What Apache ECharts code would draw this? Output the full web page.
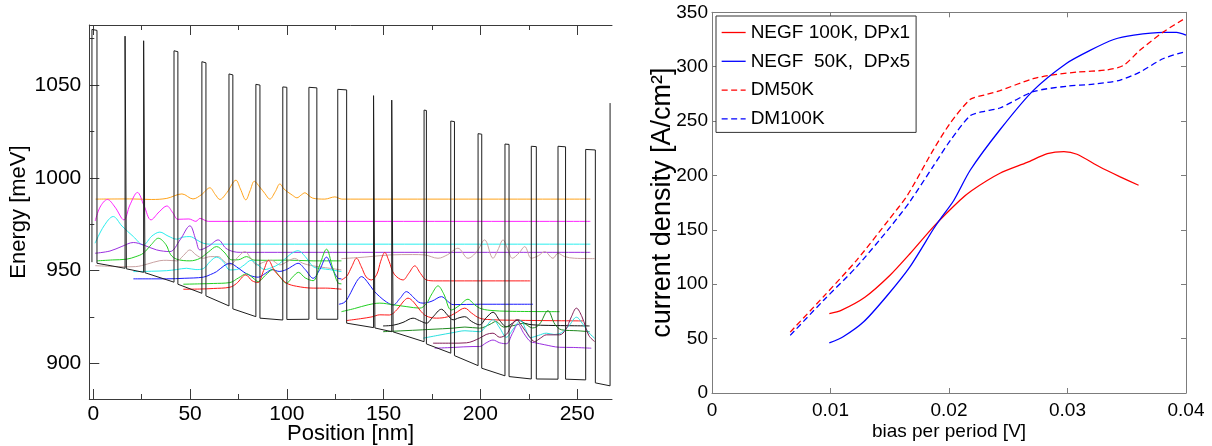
<!DOCTYPE html>
<html><head><meta charset="utf-8">
<script src="https://cdn.jsdelivr.net/npm/echarts@6.0.0/dist/echarts.min.js"></script>
<style>html,body{margin:0;padding:0;background:#fff}#c{width:1212px;height:446px}</style>
</head><body><div id="c"></div>
<script>
// ---------------- LEFT PANEL DATA (position nm, energy meV) ----------------
const posMajorTicks = [0, 50, 100, 150, 200, 250];
const posMinorTicks = [25, 75, 125, 175, 225];
const energyMajorTicks = [900, 950, 1000, 1050];
const energyMinorTicks = [925, 975, 1025, 1075];

const bandProfile = [
  [-0.7, 954.5], [-0.7, 1080.0], [1.9, 1079.5], [1.9, 953.9],
  [16.4, 951.2], [16.4, 1076.4], [17.1, 1076.2], [17.1, 950.9],
  [26.0, 949.0], [26.0, 1073.9], [26.7, 1073.7], [26.7, 948.8],
  [41.7, 943.7], [41.7, 1068.5], [43.7, 1068.0], [43.7, 942.6],
  [56.1, 937.7], [56.1, 1062.6], [58.2, 1062.0], [58.2, 936.3],
  [70.1, 930.9], [70.1, 1056.0], [72.1, 1055.5], [72.1, 929.3],
  [84.0, 925.1], [84.0, 1050.4], [86.1, 1050.0], [86.1, 924.3],
  [97.9, 923.3], [97.9, 1049.0], [100.0, 1048.8], [100.0, 923.6],
  [111.4, 923.7], [111.4, 1048.8], [115.5, 1048.5], [115.5, 923.7],
  [126.3, 923.7], [126.3, 1047.7], [130.9, 1047.4], [130.9, 921.6],
  [144.8, 919.2], [144.8, 1044.3], [145.5, 1044.2], [145.5, 919.0],
  [154.2, 917.0], [154.2, 1041.9], [154.9, 1041.8], [154.9, 916.9],
  [170.9, 911.6], [170.9, 1036.5], [172.1, 1036.3], [172.1, 910.4],
  [184.7, 905.4], [184.7, 1030.6], [186.6, 1030.3], [186.6, 904.1],
  [198.8, 898.7], [198.8, 1023.8], [200.7, 1023.5], [200.7, 897.3],
  [212.7, 893.2], [212.7, 1018.2], [214.8, 1018.0], [214.8, 892.8],
  [226.3, 891.5], [226.3, 1017.0], [228.9, 1016.8], [228.9, 891.5],
  [240.1, 891.4], [240.1, 1017.0], [244.0, 1016.7], [244.0, 891.4],
  [254.4, 891.0], [254.4, 1015.3], [259.4, 1015.0], [259.4, 889.4],
  [267.0, 887.8], [267.0, 1040.3]
];

const psiOrange = [[1.2,988.5],[20,988.6],[30,988.3],[38,988.9],[45.8,991.3],[51.5,988.6],[56,991],[60.2,994.6],[63,991],[65.4,988.3],[69,992],[73.7,998.7],[76,994],[78.8,988.1],[81,993],[83.2,998.1],[86,995],[88.6,991.6],[91.2,988.5],[94,992.5],[96.4,996.7],[98.5,994],[100.5,992.3],[103,990.5],[105.2,989.2],[107.5,990.8],[109.3,991.9],[111.5,990.3],[113.4,989.0],[119.6,988.5],[124.8,989.7],[128.4,988.5],[256.8,988.5]];
const psiMagenta = [[1.0,976.7],[3.5,984.2],[7.3,988.3],[11.2,984.2],[15.8,977.3],[18.9,985.3],[22.8,992.1],[26.2,985],[29.8,977.3],[34,981.6],[38,984.8],[41.1,981.1],[43.7,977.6],[49.4,977.8],[53,976.5],[55.1,978.1],[59.4,976.5],[256.8,976.5]];
const psiCyan = [[0.9,964.7],[5.5,974],[10.3,979.1],[14.8,974],[20.7,968.3],[25.8,963.8],[30.3,968.6],[34.4,970.7],[38.6,968.6],[43.1,966.9],[46.3,968],[49.9,968.3],[53.5,966.5],[56.8,964.7],[60.2,964.2],[256.8,964.2]];
const psiPurple = [[0.9,959.3],[8.6,960.5],[14.8,963],[20.7,965.1],[25.8,963.8],[32.7,961.1],[39.6,960.2],[44.8,966.5],[49.9,974.1],[53,966.5],[55.1,961.1],[59.7,963.2],[64.5,966.5],[68.5,962],[72.3,960.2],[76,959.8],[256.8,959.8]];
const psiGreenA = [[1.9,955.2],[10,955.7],[17.2,956.1],[22,957.5],[25.8,959.3],[30,964],[33.6,967.4],[37.5,964],[40,958.5],[43.1,956.1],[49.9,955.2],[55,956.5],[59.5,960],[63.7,962.9],[67.5,960],[71.6,955.7],[75,955.8],[79.2,957.5],[83,955.6],[90,955.5],[100,955.6],[113.6,955.2],[128.2,955.2]];
const psiRosyA = [[1,952.6],[10,952.2],[16,952],[21.9,952.1],[28,953.5],[34.4,955.3],[38,955.5],[43.1,955.2],[46.5,958],[49.9,961.1],[53,958.5],[56.8,956.6],[60.5,957.5],[64.5,957.5],[67.5,955],[70.6,953],[74.5,957],[78.3,960.2],[81.5,956.5],[84.4,953],[88,954.5],[92,955.5],[96.4,953],[100.5,955],[104,956.5],[108,954],[113.6,952.5],[120,951.5],[128.2,950.3]];
const psiCyanA = [[20.7,949.4],[30,949.6],[37.9,949.9],[43,950.5],[48.2,951.2],[53,950.5],[56.8,951],[60.5,955],[63.7,957.2],[67,955],[70.6,950.3],[74,950.5],[78,953],[81.5,955.5],[85,953],[88.6,950.5],[92,951.5],[96,953.5],[101.5,958.5],[105.8,960.7],[109.5,957.5],[113.6,952.1],[118,951],[122,950.5],[128.2,949.4]];
const psiBlueA = [[20.7,945.5],[30,945.5],[37.9,945.5],[47,945.8],[56.8,946.4],[60.5,947.8],[63.7,949.4],[67.5,952.5],[70.6,953.9],[74,952],[77.4,949.4],[81,947.3],[85.2,946.4],[89,948.5],[92.5,950.5],[96,949.5],[99.8,950.5],[103,952.5],[105.8,953.9],[109.5,950.5],[113.6,945.8],[117,950.5],[120.5,957.2],[123.5,951],[126.5,945.8],[128.2,945.5]];
const psiGreenA2 = [[46.5,942.6],[55,942.8],[62,943],[70.6,943.5],[75,946],[79.2,948.2],[82.5,946],[85.2,944],[89,947.5],[92.9,950.5],[96.4,946.5],[99.8,943.2],[103,946.5],[106,949],[109.5,946],[113.6,944.5],[117,953],[120.5,961.5],[123.5,952],[126.5,943.2],[128.2,942.8]];
const psiRedA = [[46.5,939.9],[55,940],[62,940.3],[70.6,941],[74,943],[78.8,947.6],[82,944.5],[85,943.5],[88,950],[90.5,955.5],[93.5,950],[96.4,946.7],[99.8,943.2],[105,941.5],[113.6,940.5],[120,940.5],[128.2,939.9]];
const psiRosyB = [[128.2,956.4],[140,957.2],[153.2,958.4],[165,958.6],[171.2,958.4],[178.1,956.6],[183,958.5],[188.4,962],[193.6,956.6],[198,960],[202.2,966.5],[206.5,956.6],[209,961],[211.7,966.5],[214.3,961],[216.5,956.6],[220,959.5],[222.9,962.9],[226.3,956.6],[230,958],[233.2,960.2],[237.5,956.6],[240.1,959.3],[243.5,957.5],[248.7,956.6],[259,956.4]];
const psiRedB = [[128.2,944.9],[131,947],[133.5,952],[136,956.6],[138.5,952],[141,946.5],[143.7,944.9],[146.5,948],[148.5,955],[150.6,959.7],[152.8,955],[155.5,948],[160,944.9],[163,948.5],[166.1,952.5],[169,948.5],[172.1,944.9],[177,944.4],[225.8,944.4]];
const psiBlueB = [[126.9,931.8],[130,933],[133,938],[136,944],[138.6,946.7],[141.5,944],[145,939],[148,935.9],[151.5,933],[154.9,931.4],[158.5,935],[161.8,938.6],[165,936],[168,933],[170.4,932.4],[175,933.5],[179.9,935.9],[183,933.5],[185.9,931.6],[200,931.8],[227.2,931.8]];
const psiGreenB = [[128.2,927.8],[135,929.5],[142,931.5],[148,932.4],[155,931.5],[162,930.5],[168.7,929.7],[172,932],[175,937.5],[178.1,941.7],[181,937.5],[185,928.7],[189,931],[193.6,934.5],[196.5,932],[199.6,929.7],[205,928.5],[215,928],[240.9,927.8]];
const psiRedB2 = [[130.8,923],[138,924],[144,925],[148,926.1],[153,926],[157,929],[160,933],[162.6,935.1],[165.5,933],[168.7,928.7],[172,925.5],[177.3,924.3],[183,925],[187,927],[191.9,929.7],[195.5,927],[199.6,924.3],[205,923.5],[215,923.2],[253,922.8]];
const psiBlackB = [[149.7,920.1],[155,920.5],[160,922],[165.2,924.3],[168.5,923],[172.1,921.6],[175.5,925],[179.9,929.1],[183,926],[185.9,923.4],[189,924.5],[191.9,925.1],[195.5,922.5],[199.6,920.7],[203,924.5],[206.5,927.5],[210,923],[213.4,919.7],[216.5,921.5],[219.4,923.4],[223,921.5],[227.2,920.7],[235,920.4],[256.4,920.1]];
const psiDkGreenB = [[149.7,917],[160,917.5],[170,918],[175,918.3],[185.9,918.9],[192,919.5],[199.6,918.9],[205,921],[208,922.5],[212,919.5],[218,920.5],[222,921.5],[227,919],[230.5,921],[234.9,928.3],[238.5,921],[242,918],[250,917.5],[256.4,917]];
const psiCyanB = [[170.4,913.5],[178,915],[185.9,916.5],[192,917.5],[199.6,917],[203,920],[206.5,923.5],[210,919],[213.4,914],[217,918.5],[220.8,923],[223.5,918],[225.8,913.8],[230,915],[234.1,916.2],[238,915.5],[242,916.5],[246,920.5],[249.6,924.8],[253,921],[256,916.5],[259,913.5]];
const psiMaroonB = [[175.5,910.8],[185,910.8],[192.8,911],[199.6,913.5],[203,915.5],[206.5,916.2],[210,914],[213.4,915.5],[216,920],[218.6,923.4],[221.5,920],[225.4,914.3],[228,911.7],[231,913.5],[234.1,915.3],[240.9,915.3],[244,918],[247,925],[249.6,929.7],[252.5,925],[256,915],[259,911.7]];
const psiPurpleB = [[176.4,908.1],[186,908.5],[196.2,909],[199.6,909],[203,911],[206.5,912.5],[210,911],[213.4,910.5],[216.5,916],[219.4,921],[222.5,916],[226,911.5],[228,911.1],[233,910],[240.9,908.6],[248,908.5],[257.3,908.1]];

// ---------------- RIGHT PANEL DATA (bias V, current density A/cm^2) ----------------
const legendNames = ['NEGF 100K, DPx1', 'NEGF  50K,  DPx5', 'DM50K', 'DM100K'];
const negf100K = [[0.0099,73],[0.0109,76],[0.0129,88],[0.0150,108],[0.0167,128],[0.0187,153],[0.0209,177],[0.0219,186],[0.0243,202],[0.0266,212],[0.0283,220],[0.0297,222],[0.0308,219.5],[0.0327,208],[0.0344,199],[0.0360,191]];
const negf50K = [[0.0099,46],[0.0111,52],[0.0128,65.5],[0.0147,88.5],[0.0167,116],[0.0187,151],[0.0192,159],[0.0204,177],[0.0218,205],[0.0243,242],[0.0271,278],[0.0299,303],[0.0319,315],[0.0339,325],[0.0356,329],[0.0381,331.5],[0.0392,331.5],[0.0400,329]];
const dm50K = [[0.0066,56],[0.0094,88.5],[0.0122,122],[0.0149,159],[0.0165,182],[0.0187,224],[0.0201,248],[0.0218,270],[0.0230,274],[0.0243,278],[0.0271,289],[0.0291,293],[0.0308,295],[0.0333,297],[0.0347,301],[0.0361,315],[0.0381,332],[0.0400,345]];
const dm100K = [[0.0066,53],[0.0094,85],[0.0122,116],[0.0150,152],[0.0167,176],[0.0187,209],[0.0201,232],[0.0218,255],[0.0230,259],[0.0243,262],[0.0271,277],[0.0299,282],[0.0322,284],[0.0344,287.5],[0.0361,295],[0.0381,307.5],[0.0400,314]];

// ---------------- STYLES ----------------
const FONT = '"Liberation Sans", Arial, Helvetica, sans-serif';
const LCOL = '#3a3a3a';
const RCOL = '#7c7c7c';
const leftCurves = [
  [psiOrange, '#ffa31a'], [psiMagenta, '#ff22ff'], [psiCyan, '#2aeeee'], [psiPurple, '#9b30e0'],
  [psiGreenA, '#22d022'], [psiRosyA, '#c9a2a2'], [psiCyanA, '#2aeeee'], [psiBlueA, '#1a1aff'],
  [psiGreenA2, '#22d022'], [psiRedA, '#ff1a1a'],
  [psiRosyB, '#caa3a3'], [psiRedB, '#ff1a1a'], [psiBlueB, '#1a1aff'], [psiGreenB, '#22d022'],
  [psiRedB2, '#ff1a1a'], [psiBlackB, '#111111'], [psiDkGreenB, '#208a20'], [psiCyanB, '#2ae0e0'],
  [psiMaroonB, '#85205a'], [psiPurpleB, '#9b30e0']
];

const xMinL = -2.07, xMaxL = 268, yMinL = 880.7, yMaxL = 1082.4;
const plain = function (v) { return String(v); };

function lx(pos, ticks, len, line, label) {
  return {
    gridIndex: 0, type: 'value', position: pos, min: xMinL, max: xMaxL,
    axisLine: { show: line, onZero: false, lineStyle: { color: LCOL, width: 1 } },
    axisTick: { show: true, inside: true, length: len, customValues: ticks, lineStyle: { color: LCOL, width: 1 } },
    axisLabel: label ? { show: true, customValues: ticks, formatter: plain, fontSize: 21, color: '#000', fontFamily: FONT, margin: 5 } : { show: false },
    splitLine: { show: false }
  };
}
function ly(ticks, len, line, label) {
  return {
    gridIndex: 0, type: 'value', position: 'left', min: yMinL, max: yMaxL,
    axisLine: { show: line, onZero: false, lineStyle: { color: LCOL, width: 1 } },
    axisTick: { show: true, inside: true, length: len, customValues: ticks, lineStyle: { color: LCOL, width: 1 } },
    axisLabel: label ? { show: true, customValues: ticks, formatter: plain, fontSize: 21, color: '#000', fontFamily: FONT, margin: 8 } : { show: false },
    splitLine: { show: false }
  };
}
function rx(pos, label) {
  return {
    gridIndex: 1, type: 'value', position: pos, min: 0, max: 0.04, interval: 0.01,
    axisLine: { show: true, onZero: false, lineStyle: { color: RCOL, width: 1 } },
    axisTick: { show: true, inside: true, length: 5, lineStyle: { color: RCOL } },
    axisLabel: label ? { show: true, fontSize: 19, color: '#000', fontFamily: FONT, margin: 8 } : { show: false },
    splitLine: { show: false }
  };
}
function ry(pos, label) {
  return {
    gridIndex: 1, type: 'value', position: pos, min: 0, max: 350, interval: 50,
    axisLine: { show: true, onZero: false, lineStyle: { color: RCOL, width: 1 } },
    axisTick: { show: true, inside: true, length: 5, lineStyle: { color: RCOL } },
    axisLabel: label ? { show: true, fontSize: 19, color: '#000', fontFamily: FONT, margin: 4 } : { show: false },
    splitLine: { show: false }
  };
}

const xAxes = [
  Object.assign(lx('bottom', posMajorTicks, 10, true, true), { name: 'Position [nm]', nameLocation: 'middle', nameGap: 24, nameMoveOverlap: false, nameTextStyle: { fontSize: 22, color: '#000', fontFamily: FONT } }),
  lx('top', posMajorTicks, 10, true, false),
  lx('bottom', posMinorTicks, 5, false, false),
  lx('top', posMinorTicks, 5, false, false),
  Object.assign(rx('bottom', true), { name: 'bias per period [V]', nameLocation: 'middle', nameGap: 29, nameMoveOverlap: false, nameTextStyle: { fontSize: 19, color: '#000', fontFamily: FONT } }),
  rx('top', false)
];
const yAxes = [
  Object.assign(ly(energyMajorTicks, 10, true, true), { name: 'Energy [meV]', nameLocation: 'middle', nameGap: 59, nameMoveOverlap: false, nameTextStyle: { fontSize: 22, color: '#000', fontFamily: FONT } }),
  ly(energyMinorTicks, 5, false, false),
  Object.assign(ry('left', true), { name: 'current density [A/cm²]', nameLocation: 'middle', nameGap: 36, nameMoveOverlap: false, nameTextStyle: { fontSize: 27, color: '#000', fontFamily: FONT } }),
  ry('right', false)
];

const series = [];
series.push({ type: 'line', xAxisIndex: 0, yAxisIndex: 0, data: bandProfile, symbol: 'none', lineStyle: { color: '#1e1e1e', width: 1 }, z: 3 });
leftCurves.forEach(function (c) {
  series.push({ type: 'line', xAxisIndex: 0, yAxisIndex: 0, data: c[0], symbol: 'none', smooth: 0.35, lineStyle: { color: c[1], width: 1 }, z: 2 });
});
const rightDefs = [
  [negf100K, '#ff0000', 'solid'], [negf50K, '#0000ff', 'solid'],
  [dm50K, '#ff0000', [6, 3.5]], [dm100K, '#0000ff', [6, 3.5]]
];
rightDefs.forEach(function (d, i) {
  series.push({ type: 'line', name: legendNames[i], xAxisIndex: 4, yAxisIndex: 2, data: d[0], symbol: 'none', smooth: 0.25,
    itemStyle: { color: d[1] }, lineStyle: { color: d[1], width: 1.3, type: d[2] } });
});

const chart = echarts.init(document.getElementById('c'), null, { renderer: 'canvas' });
chart.setOption({
  animation: false,
  backgroundColor: '#ffffff',
  textStyle: { fontFamily: FONT },
  grid: [
    { left: 89.3, right: 600, top: 25, bottom: 47, containLabel: false, outerBoundsMode: 'none' },
    { left: 712, right: 26, top: 12.3, bottom: 53, containLabel: false, outerBoundsMode: 'none' }
  ],
  legend: {
    data: legendNames, orient: 'vertical', left: 716, top: 16,
    itemWidth: 24, itemHeight: 12, itemGap: 9.8, padding: [7, 6, 4, 5],
    borderColor: '#333', borderWidth: 1, backgroundColor: '#fff',
    itemStyle: { opacity: 0, borderWidth: 0 },
    lineStyle: { width: 1.3 },
    textStyle: { fontSize: 19, color: '#000', fontFamily: FONT }
  },
  xAxis: xAxes,
  yAxis: yAxes,
  series: series
});
</script></body></html>
